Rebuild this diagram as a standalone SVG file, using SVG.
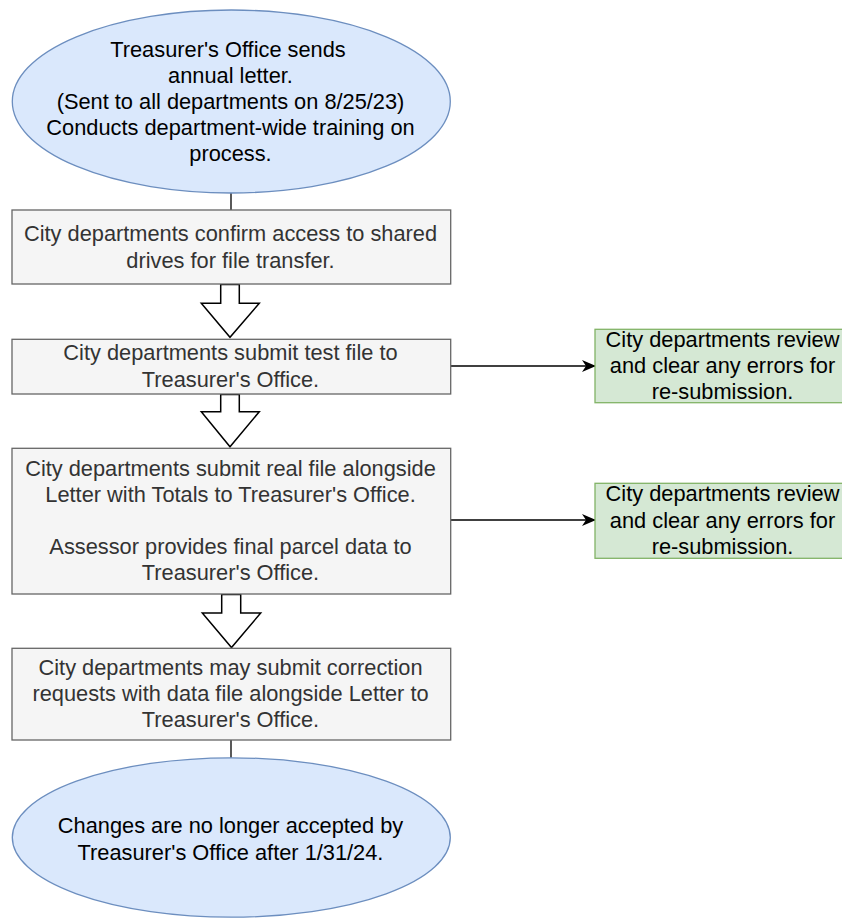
<svg xmlns="http://www.w3.org/2000/svg" width="842" height="918" viewBox="0 0 842 918">
<defs>
<style>
text{font-family:"Liberation Sans",Arial,sans-serif;font-size:21.8px;text-anchor:middle}
.ell{fill:#dae8fc;stroke:#6c8ebf;stroke-width:1.3}
.box{fill:#f5f5f5;stroke:#666666;stroke-width:1.3}
.grn{fill:#d5e8d4;stroke:#82b366;stroke-width:1.3}
.t{fill:#000000}
.g{fill:#333333}
.line{fill:none;stroke:#000000;stroke-width:1.3}
.blk{fill:#ffffff;stroke:#000000;stroke-width:1.5;stroke-linejoin:miter}
</style>
<marker id="ah" markerWidth="14" markerHeight="12" refX="13" refY="6" orient="auto" markerUnits="userSpaceOnUse">
<path d="M0,0 L14,6 L0,12 L4,6 Z" fill="#000000"/>
</marker>
</defs>
<rect width="842" height="918" fill="#ffffff"/>
<g id="connectors">
<line class="line" x1="231" y1="193" x2="231" y2="210"/>
<path class="blk" d="M220.7,284.5 L239.3,284.5 L239.3,303.3 L259.3,303.3 L230,337.3 L201.3,303.3 L220.7,303.3 Z"/>
<path class="blk" d="M220.7,394.5 L239.3,394.5 L239.3,411.7 L259.3,411.7 L230,446.7 L201.3,411.7 L220.7,411.7 Z"/>
<path class="blk" d="M221.7,594.5 L240.7,594.5 L240.7,613 L260.7,613 L231.5,647.5 L202.3,613 L221.7,613 Z"/>
<line class="line" x1="231" y1="740" x2="231" y2="758"/>
<line class="line" x1="450.7" y1="366" x2="595" y2="366" marker-end="url(#ah)"/>
<line class="line" x1="450.7" y1="520" x2="595" y2="520" marker-end="url(#ah)"/>
</g>
<g id="start">
<ellipse class="ell" cx="231.3" cy="101.5" rx="219" ry="91.5"/>
<text class="t" x="228" y="57">Treasurer's Office sends</text>
<text class="t" x="230.5" y="83">annual letter.</text>
<text class="t" x="230.5" y="109">(Sent to all departments on 8/25/23)</text>
<text class="t" x="230.5" y="135">Conducts department-wide training on</text>
<text class="t" x="230.5" y="161">process.</text>
</g>
<g id="confirm">
<rect class="box" x="12" y="210" width="438.7" height="74"/>
<text class="g" x="230.5" y="241">City departments confirm access to shared</text>
<text class="g" x="230.5" y="268">drives for file transfer.</text>
</g>
<g id="test">
<rect class="box" x="12" y="339.3" width="438.7" height="54.7"/>
<text class="g" x="230.5" y="360">City departments submit test file to</text>
<text class="g" x="230.5" y="387">Treasurer's Office.</text>
</g>
<g id="review1">
<rect class="grn" x="595" y="329.3" width="255" height="73.4"/>
<text class="t" x="722.5" y="347">City departments review</text>
<text class="t" x="722.5" y="373">and clear any errors for</text>
<text class="t" x="722.5" y="399">re-submission.</text>
</g>
<g id="real">
<rect class="box" x="12" y="448.3" width="438.7" height="145.7"/>
<text class="g" x="230.5" y="476">City departments submit real file alongside</text>
<text class="g" x="230.5" y="502">Letter with Totals to Treasurer's Office.</text>
<text class="g" x="230.5" y="554">Assessor provides final parcel data to</text>
<text class="g" x="230.5" y="580">Treasurer's Office.</text>
</g>
<g id="review2">
<rect class="grn" x="595" y="483.3" width="255" height="75"/>
<text class="t" x="722.5" y="501">City departments review</text>
<text class="t" x="722.5" y="528">and clear any errors for</text>
<text class="t" x="722.5" y="554">re-submission.</text>
</g>
<g id="correction">
<rect class="box" x="12" y="648.3" width="438.7" height="91.7"/>
<text class="g" x="230.5" y="675">City departments may submit correction</text>
<text class="g" x="230.5" y="701">requests with data file alongside Letter to</text>
<text class="g" x="230.5" y="727">Treasurer's Office.</text>
</g>
<g id="end">
<ellipse class="ell" cx="231.3" cy="837.5" rx="219" ry="79.7"/>
<text class="t" x="230.5" y="833">Changes are no longer accepted by</text>
<text class="t" x="230.5" y="860">Treasurer's Office after 1/31/24.</text>
</g>
</svg>
